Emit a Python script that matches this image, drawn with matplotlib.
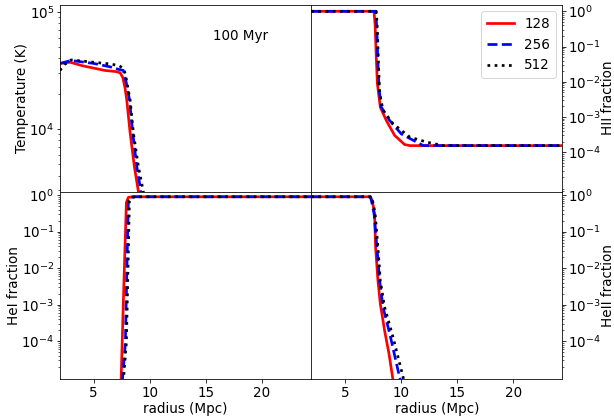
import numpy as np
import matplotlib
matplotlib.use("Agg")
import matplotlib.pyplot as plt
from matplotlib.ticker import NullFormatter

plt.rcParams["font.size"] = 13.5

# resolutions compared
labels = ["128", "256", "512"]
colors = ["r", "b", "k"]
styles = ["-", "--", ":"]

# temperature profiles (radius in Mpc, log10 T in K)
t_r = [
    [2.0, 2.9, 4.0, 5.0, 6.0, 7.0, 7.36, 7.6, 7.8, 7.95, 8.25, 8.63, 9.0, 9.4],
    [2.0, 3.0, 5.0, 6.5, 7.2, 7.65, 7.9, 8.2, 8.48, 8.85, 9.14, 9.5],
    [2.0, 2.4, 3.0, 4.0, 5.0, 6.5, 7.3, 7.7, 7.85, 8.25, 8.54, 8.99, 9.44, 9.7],
]
t_log = [
    [4.56, 4.57, 4.54, 4.52, 4.50, 4.49, 4.48, 4.44, 4.35, 4.25, 3.97, 3.68, 3.46, 3.2],
    [4.56, 4.585, 4.56, 4.53, 4.51, 4.50, 4.40, 4.25, 3.97, 3.68, 3.51, 3.2],
    [4.50, 4.55, 4.59, 4.58, 4.57, 4.555, 4.54, 4.51, 4.46, 4.25, 3.97, 3.68, 3.46, 3.3],
]

# HII fraction
hii_r = [
    [2.0, 7.6, 7.7, 7.8, 7.9, 8.16, 8.7, 9.44, 10.33, 10.8, 24.4],
    [2.0, 7.75, 7.85, 7.95, 8.05, 8.25, 9.0, 10.04, 11.4, 12.0, 24.4],
    [2.0, 7.8, 7.9, 8.0, 8.1, 8.4, 9.3, 10.8, 12.3, 13.75, 24.4],
]
hii_log = [
    [0, 0, -0.4, -1.3, -2.05, -2.72, -3.1, -3.52, -3.78, -3.81, -3.81],
    [0, 0, -0.5, -1.5, -2.2, -2.72, -3.1, -3.48, -3.71, -3.81, -3.81],
    [0, 0, -0.5, -1.5, -2.3, -2.81, -3.19, -3.57, -3.71, -3.81, -3.81],
]

# HeI fraction
hei_r = [
    [7.4, 7.45, 7.7, 7.92, 8.1, 8.5, 24.4],
    [7.5, 7.57, 7.83, 8.0, 8.1, 8.3, 8.7, 24.4],
    [7.6, 7.66, 7.92, 8.1, 8.19, 8.4, 8.8, 24.4],
]
hei_log = [
    [-5.5, -5.05, -2.4, -0.2, -0.06, -0.046, -0.046],
    [-5.5, -5.05, -4.03, -1.5, -0.15, -0.06, -0.046, -0.046],
    [-5.5, -5.05, -4.03, -1.5, -0.15, -0.06, -0.046, -0.046],
]

# HeII fraction
heii_r = [
    [2.0, 7.2, 7.45, 7.65, 7.74, 7.95, 8.16, 8.54, 8.93, 9.29, 9.5],
    [2.0, 7.3, 7.6, 7.86, 8.1, 8.4, 9.0, 9.73, 9.95, 10.2],
    [2.0, 7.4, 7.7, 7.95, 8.16, 8.54, 9.29, 10.18, 10.25, 10.5],
]
heii_log = [
    [-0.046, -0.046, -0.15, -0.52, -1.43, -2.34, -2.97, -3.7, -4.33, -5.05, -5.5],
    [-0.046, -0.046, -0.5, -1.43, -2.34, -3.06, -3.79, -4.78, -5.05, -5.5],
    [-0.046, -0.046, -0.5, -1.43, -2.34, -3.06, -3.88, -4.96, -5.05, -5.5],
]

fig = plt.figure(figsize=(614 / 72, 419 / 72), dpi=72)
gs = fig.add_gridspec(2, 2, left=0.0977, right=0.916, top=0.989, bottom=0.0955,
                      hspace=0, wspace=0)
ax_t = fig.add_subplot(gs[0, 0])
ax_hii = fig.add_subplot(gs[0, 1])
ax_hei = fig.add_subplot(gs[1, 0])
ax_heii = fig.add_subplot(gs[1, 1])

frac_ticks = [1e-4, 1e-3, 1e-2, 1e-1, 1]
panels = [
    (ax_t, t_r, t_log, "Temperature (K)", (10**3.464, 10**5.062), [1e4, 1e5]),
    (ax_hii, hii_r, hii_log, "HII fraction", (10**-5.12, 10**0.19), frac_ticks),
    (ax_hei, hei_r, hei_log, "HeI fraction", (10**-5.03, 10**0.09), frac_ticks),
    (ax_heii, heii_r, heii_log, "HeII fraction", (10**-5.03, 10**0.09), frac_ticks),
]

for ax, rs, logs, ylab, ylim, yt in panels:
    for r, lv, lab, c, ls in zip(rs, logs, labels, colors, styles):
        ax.plot(r, 10**np.array(lv), color=c, ls=ls, lw=2.7, label=lab)
    ax.set_yscale("log")
    ax.set_xlim(2.0, 24.4)
    ax.set_ylim(*ylim)
    ax.set_yticks(yt)
    ax.yaxis.set_minor_formatter(NullFormatter())
    ax.set_ylabel(ylab, labelpad=0)
    ax.set_xticks([5, 10, 15, 20])
    ax.tick_params(axis="y", which="major", pad=2.5)

for ax in (ax_hii, ax_heii):
    ax.yaxis.tick_right()
    ax.yaxis.set_label_position("right")

for ax in (ax_t, ax_hii):
    ax.tick_params(axis="x", which="both", bottom=False, labelbottom=False)

for ax in (ax_hei, ax_heii):
    ax.set_xlabel("radius (Mpc)", labelpad=2)

ax_t.text(0.72, 0.83, "100 Myr", transform=ax_t.transAxes, ha="center", va="center")
ax_hii.legend(loc="upper right")

fig.savefig("out.png", dpi=72)
